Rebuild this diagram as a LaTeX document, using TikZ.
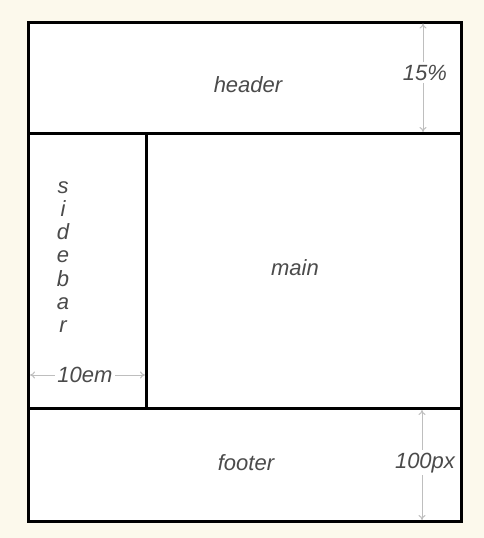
\documentclass[tikz,border=0pt]{standalone}
\usepackage{fontspec}
\setmainfont{Liberation Sans}
\usetikzlibrary{arrows.meta}
\definecolor{bg}{RGB}{252,249,236}
\definecolor{txt}{RGB}{75,75,75}
\definecolor{arr}{RGB}{190,190,190}
\begin{document}
\begin{tikzpicture}[x=1pt,y=-1pt,
  lbl/.style={font=\fontsize{22}{24}\selectfont\itshape, text=txt, inner sep=0pt},
  dimlbl/.style={font=\fontsize{22}{24}\selectfont\itshape, text=txt, inner sep=2.5pt},
  frame/.style={draw=black, line width=3pt},
  dim/.style={draw=arr, line width=1pt, -{To[length=5pt,width=7pt]}}]
\fill[bg] (0,0) rectangle (484,538);
\useasboundingbox (0,0) rectangle (484,538);
% layout
\coordinate (tl) at (28,22);
\coordinate (br) at (461.5,521.5);
\fill[white] (tl) rectangle (br);
\draw[frame] (tl) rectangle (br);
\coordinate (hl) at (28,133.5);
\coordinate (hr) at (461.5,133.5);
\coordinate (fl) at (28,408.5);
\coordinate (fr) at (461.5,408.5);
\coordinate (st) at (146.5,133.5);
\coordinate (sb) at (146.5,408.5);
\draw[frame] (hl) -- (hr);
\draw[frame] (fl) -- (fr);
\draw[frame] (st) -- (sb);
% labels
\node[lbl, anchor=base] (header) at (248,92) {header};
\node[lbl, anchor=base] (main) at (295,275) {main};
\node[lbl, anchor=base] (footer) at (246,470) {footer};
\foreach \c [count=\k from 0] in {s,i,d,e,b,a,r}
  \node[lbl, anchor=base] (side\k) at (63,193+23.3*\k) {\c};
% dimensions
\node[dimlbl, anchor=base] (pct) at (425,80) {15\%};
\coordinate (pcttop) at (423,23.5);
\coordinate (pctbot) at (423,132);
\draw[dim] (pct.north -| pcttop) -- (pcttop);
\draw[dim] (pct.south -| pctbot) -- (pctbot);
\node[dimlbl, anchor=base] (px) at (425,468) {100px};
\coordinate (pxtop) at (422,410);
\coordinate (pxbot) at (422,520);
\draw[dim] (px.north -| pxtop) -- (pxtop);
\draw[dim] (px.south -| pxbot) -- (pxbot);
\node[dimlbl, anchor=base] (em) at (85,382.5) {10em};
\coordinate (emleft) at (30,375);
\coordinate (emright) at (145,375);
\draw[dim] (em.west |- emleft) -- (emleft);
\draw[dim] (em.east |- emright) -- (emright);
\end{tikzpicture}
\end{document}
